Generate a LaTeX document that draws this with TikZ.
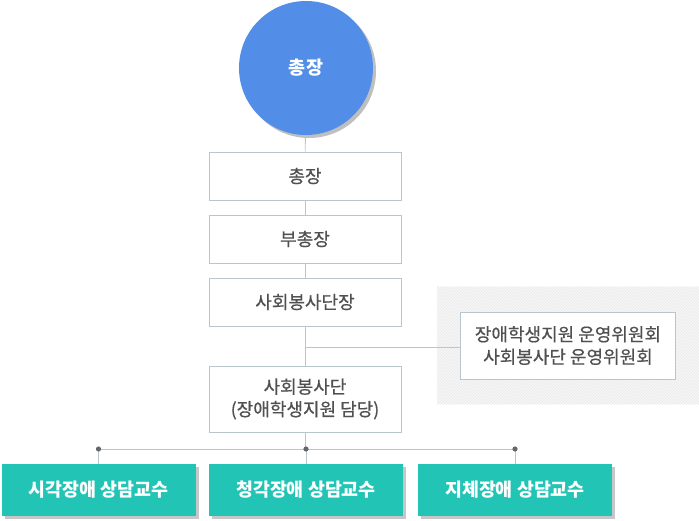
\documentclass[tikz,border=0pt]{standalone}
\usepackage{fontspec}
\setmainfont{Noto Sans CJK KR}
\newfontfamily\officefont[FakeBold=0.5]{Noto Sans CJK KR}
\usepackage{xcolor}
\usepackage{tikz}
\usetikzlibrary{patterns,shadows}
\definecolor{chiefblue}{RGB}{82,142,232}
\definecolor{profteal}{RGB}{34,196,181}
\definecolor{linegray}{RGB}{184,198,208}
\definecolor{textgray}{RGB}{80,80,80}
\tikzset{every node/.append style={font=\fontsize{18}{22.5}\selectfont}}
\tikzset{
  office/.style={draw=linegray, line width=0.9pt, fill=white, text=textgray,
    font=\officefont\fontsize{18}{22.5}\selectfont,
    minimum width=192pt, minimum height=48pt, inner sep=0pt, align=center},
  advisor/.style={fill=profteal, text=white, font=\fontsize{18.4}{22}\selectfont\bfseries,
    minimum width=194pt, minimum height=52pt, inner sep=0pt,
    drop shadow={shadow xshift=3pt, shadow yshift=-3pt, fill=black!22, opacity=1}},
  link/.style={draw=linegray, line width=0.9pt}
}

\begin{document}
\begin{tikzpicture}[x=1pt, y=-1pt]
    \useasboundingbox (0,0) rectangle (699,521);
    % hatched background of the committee
    \fill[gray!6] (437,287) rectangle (699,404);
    \fill[pattern=north east lines, pattern color=gray!18] (437,287) rectangle (699,404);
    \node[circle, fill=chiefblue, minimum size=134pt, inner sep=0pt, text=white,
      font=\fontsize{18.5}{22}\selectfont\bfseries,
      drop shadow={shadow xshift=3pt, shadow yshift=-3pt, fill=black!25, opacity=1}]
      (chief) at (306,68) {총장};
    \node[office] (pres) at (305,176) {총장};
    \node[office] (vice) at (305,239) {부총장};
    \node[office] (head) at (305,302) {사회봉사단장};
    \node[office, minimum height=66pt] (corps) at (305,399) {사회봉사단\\(장애학생지원 담당)};
    \node[office, minimum width=215pt, minimum height=67pt] (comm) at (568,345.5)
      {장애학생지원 운영위원회\\사회봉사단 운영위원회};
    \draw[link] (chief) -- (pres);
    \draw[link] (pres) -- (vice);
    \draw[link] (vice) -- (head);
    \draw[link] (head) -- (corps);
    \coordinate (tap) at (305,347);
    \draw[link] (tap) -- (tap -| comm.west);
    % counselling professors
    \node[advisor] (sight) at (98.5,490) {시각장애 상담교수};
    \node[advisor] (hear) at (306,490) {청각장애 상담교수};
    \node[advisor] (body) at (515,490) {지체장애 상담교수};
    \coordinate (bus) at (305,449);
    \draw[link] (corps) -- (bus);
    \draw[link] (bus -| sight) -- (bus -| body);
    \foreach \p in {sight, hear, body}
      \draw[link] (bus -| \p) -- (\p.north);
    \foreach \p in {sight, hear, body}
      \fill[black!60] (bus -| \p) circle (2.6pt);
\end{tikzpicture}
\end{document}
